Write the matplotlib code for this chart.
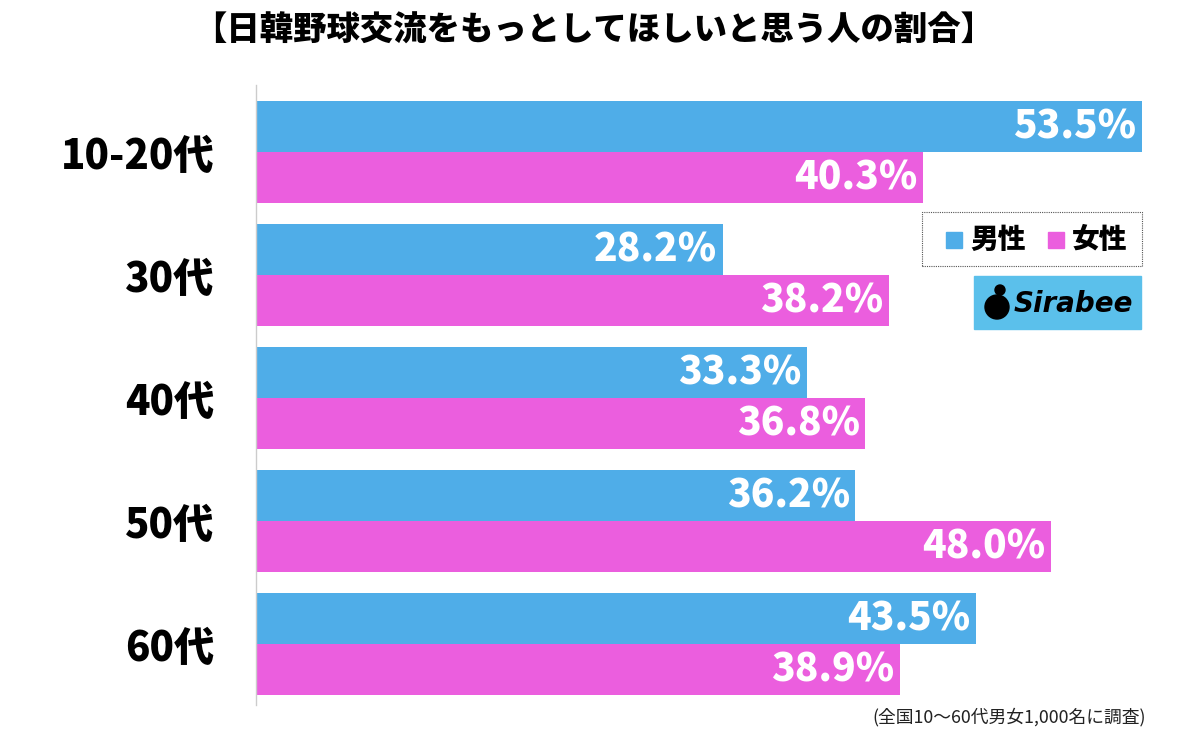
import matplotlib
matplotlib.use("Agg")
import matplotlib.pyplot as plt
from matplotlib.patches import Rectangle, Ellipse
import numpy as np

plt.rcParams['font.family'] = ['Noto Sans CJK JP', 'DejaVu Sans']

title = "【日韓野球交流をもっとしてほしいと思う人の割合】"
categories = ["10-20代", "30代", "40代", "50代", "60代"]
male = [53.5, 28.2, 33.3, 36.2, 43.5]
female = [40.3, 38.2, 36.8, 48.0, 38.9]
series_names = ["男性", "女性"]
note = "(全国10～60代男女1,000名に調査)"

blue = "#4fade8"
pink = "#eb5ede"

fig = plt.figure(figsize=(12, 7.33), dpi=100)
ax = fig.add_axes([256 / 1200, 1 - 705 / 733, 924 / 1200, 620 / 733])

y = np.arange(len(categories))
h = 51 / 123
ax.barh(y - h / 2, male, height=h, color=blue)
ax.barh(y + h / 2, female, height=h, color=pink)

for i in range(len(categories)):
    ax.text(male[i] - 0.35, y[i] - h / 2, f"{male[i]:.1f}%", ha="right", va="center",
            color="white", fontsize=28, fontweight="heavy")
    ax.text(female[i] - 0.35, y[i] + h / 2, f"{female[i]:.1f}%", ha="right", va="center",
            color="white", fontsize=28, fontweight="heavy")

ax.set_xlim(0, 924 / 16.56)
ax.set_ylim((705 - 152) / 123, -(152 - 85) / 123)
ax.set_yticks(y)
ax.set_yticklabels(categories, fontsize=29, fontweight="heavy")
ax.tick_params(axis="y", length=0, pad=30)
ax.set_xticks([])
for s in ["top", "right", "bottom"]:
    ax.spines[s].set_visible(False)
ax.spines["left"].set_color("#cccccc")
ax.spines["left"].set_linewidth(1)

fig.text(0.495, 1 - 30 / 733, title, ha="center", va="center", fontsize=24, fontweight="heavy")

# legend box
fig.patches.append(Rectangle((922 / 1200, 1 - 266 / 733), 220 / 1200, 54 / 733,
                             transform=fig.transFigure, fill=False, edgecolor="#555555",
                             linestyle=(0, (1, 1)), linewidth=0.8))
leg_y = 1 - 240 / 733
for x0, col, name in [(946, blue, series_names[0]), (1048, pink, series_names[1])]:
    fig.patches.append(Rectangle((x0 / 1200, leg_y - 8 / 733), 16 / 1200, 16 / 733,
                                 transform=fig.transFigure, color=col))
    fig.text((x0 + 24) / 1200, leg_y, name, ha="left", va="center", fontsize=20, fontweight="heavy")

# logo
fig.patches.append(Rectangle((974 / 1200, 1 - 329 / 733), 167 / 1200, 53 / 733,
                             transform=fig.transFigure, color="#5bc0eb"))
fig.patches.append(Ellipse((997 / 1200, 1 - 307 / 733), 24 / 1200, 24 / 733,
                           transform=fig.transFigure, color="black"))
fig.patches.append(Ellipse((1000 / 1200, 1 - 290 / 733), 10 / 1200, 10 / 733,
                           transform=fig.transFigure, color="black"))
fig.text(1014 / 1200, 1 - 304 / 733, "Sirabee", ha="left", va="center", fontsize=20,
         fontweight="bold", style="italic", family="DejaVu Sans")

fig.text(1146 / 1200, 1 - 717 / 733, note, ha="right", va="center", fontsize=12.8, color="#222222")

fig.savefig("out.png", dpi=100)
